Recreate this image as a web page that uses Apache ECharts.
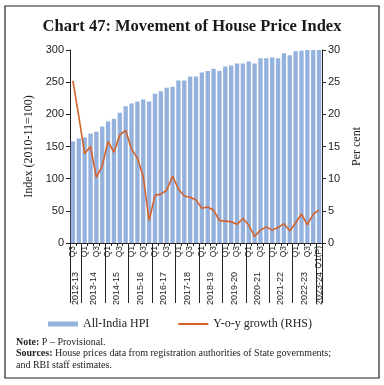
<!DOCTYPE html>
<html><head><meta charset="utf-8">
<script src="https://cdn.jsdelivr.net/npm/echarts@6/dist/echarts.min.js"></script>
<style>html,body{margin:0;padding:0;background:#fff}#c{width:384px;height:385px}</style>
</head><body><div id="c"></div>
<script>
const quarters = ['Q3','Q4',
 'Q1','Q2','Q3','Q4','Q1','Q2','Q3','Q4','Q1','Q2','Q3','Q4','Q1','Q2','Q3','Q4','Q1','Q2','Q3','Q4',
 'Q1','Q2','Q3','Q4','Q1','Q2','Q3','Q4','Q1','Q2','Q3','Q4','Q1','Q2','Q3','Q4','Q1','Q2','Q3','Q4',
 'Q1(P)'];
const years = ['2012-13','2013-14','2014-15','2015-16','2016-17','2017-18','2018-19','2019-20','2020-21','2021-22','2022-23','2023-24'];
const quartersPerYear = [2,4,4,4,4,4,4,4,4,4,4,1];
const hpi = [158,162.5,164,170,173,181,189,193,202.5,212.5,217,220,223,220,232,236,241.5,243,252.5,252.5,
 259,259,265,267.5,271,267.5,274.5,276,279,279,282,279,287,287,288.5,287,295,292,298,299,300,300,300];
const yoy = [25.2,19.7,13.9,15.0,10.2,12.0,15.8,14.1,16.8,17.5,14.6,13.2,10.3,3.5,7.4,7.6,8.2,10.4,8.4,7.3,
 7.1,6.7,5.4,5.6,5.1,3.5,3.4,3.3,2.9,3.8,2.8,1.0,2.0,2.5,2.0,2.4,3.0,1.9,3.1,4.5,2.8,4.5,5.1];
const leftMax = 300, leftStep = 50, rightMax = 30, rightStep = 5;

// half-bar resolution axis for year group labels and separators
const n = quarters.length;
const halfData = new Array(2*n+1).fill('');
const boundaries = new Set();
const centers = new Set();
let pos = 0;
years.forEach((y,i)=>{
  const s = pos*2, e = (pos+quartersPerYear[i])*2, c = (s+e)/2;
  halfData[c] = y; centers.add(c); boundaries.add(s); boundaries.add(e);
  pos += quartersPerYear[i];
});

const BLUE = '#95B2DE', ORANGE = '#D4622A', AX = '#222';
const sans = 'Liberation Sans', serif = 'Liberation Serif';
const chart = echarts.init(document.getElementById('c'), null, {renderer:'canvas'});
chart.setOption({
  animation:false,
  backgroundColor:'#fff',
  title:{text:'Chart 47: Movement of House Price Index',left:'center',top:13,
    textStyle:{fontFamily:serif,fontWeight:'bold',fontSize:16.5,color:'#1a1a1a'}},
  grid:{left:70,right:62,top:50,bottom:142},
  legend:{left:48,top:318,padding:0,itemWidth:30,itemHeight:5,itemGap:28,
    textStyle:{fontFamily:serif,fontSize:12,color:'#222'},
    data:[{name:'All-India HPI',icon:'rect'},{name:'Y-o-y growth (RHS)',itemStyle:{opacity:0}}]},
  xAxis:[{
    type:'category',data:quarters,position:'bottom',
    axisLine:{lineStyle:{color:AX,width:1}},
    axisTick:{show:true,interval:0,length:3,lineStyle:{color:AX}},
    axisLabel:{interval:1,rotate:90,margin:3,fontFamily:sans,fontSize:8.5,color:'#222'}
  },{
    type:'category',data:halfData,position:'bottom',boundaryGap:false,
    axisLine:{show:false},
    axisTick:{show:true,length:60,lineStyle:{color:AX},interval:(i)=>boundaries.has(i)},
    axisLabel:{rotate:90,margin:29,fontFamily:sans,fontSize:9,color:'#222',interval:(i)=>centers.has(i)}
  }],
  yAxis:[{
    type:'value',min:0,max:leftMax,interval:leftStep,
    name:'Index (2010-11=100)',nameLocation:'middle',nameRotate:90,nameGap:35,
    nameTextStyle:{fontFamily:serif,fontSize:12,color:'#222'},
    axisLine:{show:true,lineStyle:{color:AX}},
    axisTick:{show:true,length:4,lineStyle:{color:AX}},
    axisLabel:{fontFamily:sans,fontSize:11,color:'#222',margin:6},
    splitLine:{show:false}
  },{
    type:'value',min:0,max:rightMax,interval:rightStep,position:'right',
    name:'Per cent',nameLocation:'middle',nameRotate:90,nameGap:29,
    nameTextStyle:{fontFamily:serif,fontSize:12,color:'#222'},
    axisLine:{show:true,lineStyle:{color:AX}},
    axisTick:{show:true,length:4,lineStyle:{color:AX}},
    axisLabel:{fontFamily:sans,fontSize:11,color:'#222',margin:6},
    splitLine:{show:false}
  }],
  series:[{
    name:'All-India HPI',type:'bar',data:hpi,xAxisIndex:0,yAxisIndex:0,
    barCategoryGap:'26%',itemStyle:{color:BLUE}
  },{
    name:'Y-o-y growth (RHS)',type:'line',data:yoy,xAxisIndex:0,yAxisIndex:1,
    symbol:'none',showSymbol:false,lineStyle:{color:ORANGE,width:1.6},itemStyle:{color:ORANGE}
  }],
  graphic:[
    {type:'rect',shape:{x:5,y:6,width:374,height:372},style:{fill:'none',stroke:'#222',lineWidth:1.2},silent:true},
    {type:'text',left:16,top:337,style:{text:'{b|Note:} P – Provisional.',
      rich:{b:{fontWeight:'bold',fontFamily:serif,fontSize:10,fill:'#222'}},
      font:'10px "Liberation Serif"',fill:'#222'}},
    {type:'text',left:16,top:348.5,style:{text:'{b|Sources:} House prices data from registration authorities of State governments;',
      rich:{b:{fontWeight:'bold',fontFamily:serif,fontSize:10,fill:'#222'}},
      font:'10px "Liberation Serif"',fill:'#222'}},
    {type:'text',left:16,top:360,style:{text:'and RBI staff estimates.',font:'10px "Liberation Serif"',fill:'#222'}}
  ]
});
</script></body></html>
